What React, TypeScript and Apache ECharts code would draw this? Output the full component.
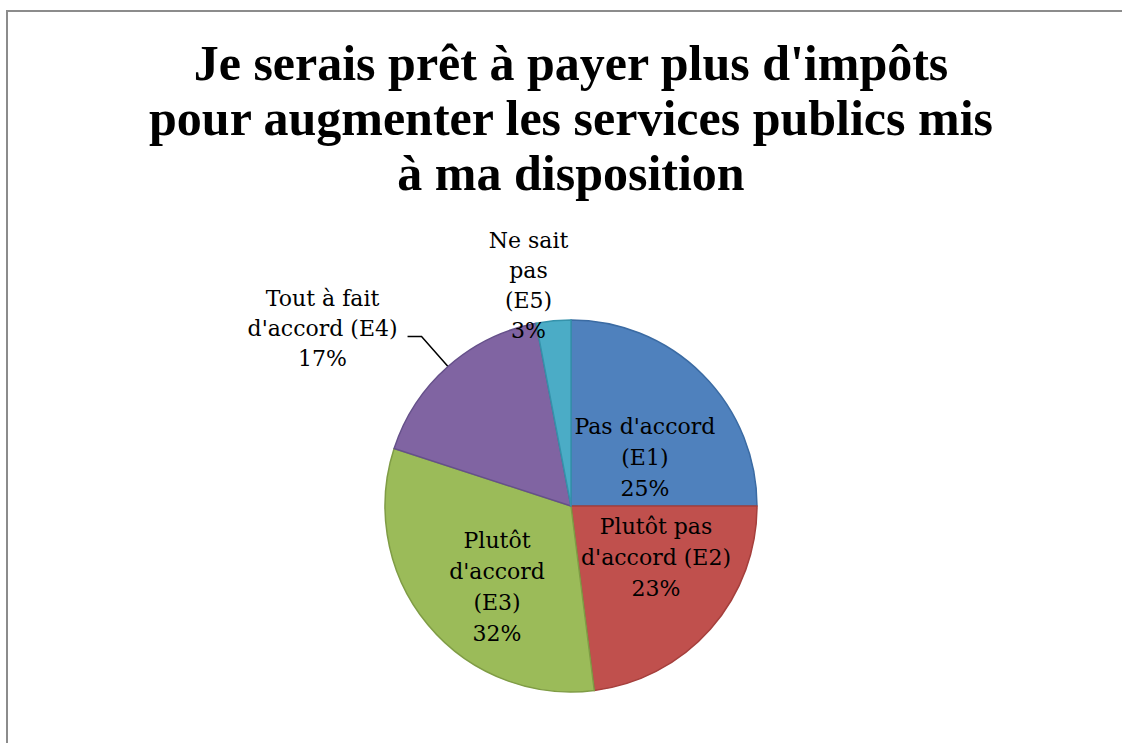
import React, { useEffect, useRef } from "react";
import * as echarts from "echarts";

const titleLines = ["Je serais prêt à payer plus d'impôts", "pour augmenter les services publics mis", "à ma disposition"];
const categories = ["Pas d'accord (E1)", "Plutôt pas d'accord (E2)", "Plutôt d'accord (E3)", "Tout à fait d'accord (E4)", "Ne sait pas (E5)"];
const values = [25, 23, 32, 17, 3];
const labelTexts = [
  ["Pas d'accord", "(E1)"],
  ["Plutôt pas", "d'accord (E2)"],
  ["Plutôt", "d'accord", "(E3)"],
  ["Tout à fait", "d'accord (E4)"],
  ["Ne sait", "pas", "(E5)"],
];
const colors = ["#4F81BD", "#C0504D", "#9BBB59", "#8064A2", "#4BACC6"];
const borders = ["#3B6BA3", "#A53F3C", "#7F9C45", "#65508A", "#3592AB"];
const richNames = ["w", "w", "w", "m", "s"];
const labelShift = [
  [6, 19],
  [13, -12],
  [0, 20],
  [0, -8],
  [20, -35],
];

export default function App() {
  const ref = useRef<HTMLDivElement>(null);
  useEffect(() => {
    document.body.style.margin = "0";
    const chart = echarts.init(ref.current!, null, { renderer: "svg" });
    const data = categories.map((name, i) => {
      const item: any = {
        name,
        value: values[i],
        itemStyle: { color: colors[i], borderColor: borders[i], borderWidth: 1.5 },
      };
      if (i < 3) {
        item.label = { position: "inside" };
        item.labelLine = { show: false };
      } else if (i === 3) {
        item.label = { position: "outside" };
        item.labelLine = { show: true, length: 40, length2: 14, lineStyle: { color: "#000", width: 1.5 } };
      } else {
        item.label = { position: "outside" };
        item.labelLine = { show: false, length: 0, length2: 0 };
      }
      return item;
    });
    chart.setOption({
      animation: false,
      backgroundColor: "#fff",
      graphic: [
        {
          type: "rect",
          shape: { x: 7, y: 11, width: 1300, height: 900 },
          style: { fill: "none", stroke: "#8c8c8c", lineWidth: 2 },
          silent: true,
        },
        {
          type: "text",
          x: 571,
          y: 35,
          style: {
            text: titleLines.join("\n"),
            textAlign: "center",
            textVerticalAlign: "top",
            fontFamily: "Liberation Serif",
            fontWeight: "bold",
            fontSize: 50,
            lineHeight: 55,
            fill: "#000",
          },
        },
      ],
      series: [
        {
          type: "pie",
          center: [571, 506],
          radius: 186,
          startAngle: 90,
          clockwise: true,
          avoidLabelOverlap: false,
          data,
          label: {
            show: true,
            color: "#000",
            fontFamily: "DejaVu Serif",
            fontSize: 22,
            lineHeight: 31,
            formatter: (p: any) => {
              const r = richNames[p.dataIndex];
              const lines = labelTexts[p.dataIndex].concat([Math.round(p.percent) + "%"]);
              return lines.map((l) => `{${r}|${l}}`).join("\n");
            },
            rich: {
              w: { width: 170, align: "center", fontFamily: "DejaVu Serif", fontSize: 22, lineHeight: 31, color: "#000" },
              m: { width: 160, align: "center", fontFamily: "DejaVu Serif", fontSize: 22, lineHeight: 30, color: "#000" },
              s: { width: 80, align: "center", fontFamily: "DejaVu Serif", fontSize: 22, lineHeight: 30, color: "#000" },
            },
          },
          labelLayout: (params: any) => ({
            dx: labelShift[params.dataIndex][0],
            dy: labelShift[params.dataIndex][1],
          }),
        },
      ],
    });
    return () => chart.dispose();
  }, []);
  return <div ref={ref} style={{ width: 1122, height: 743 }} />;
}
